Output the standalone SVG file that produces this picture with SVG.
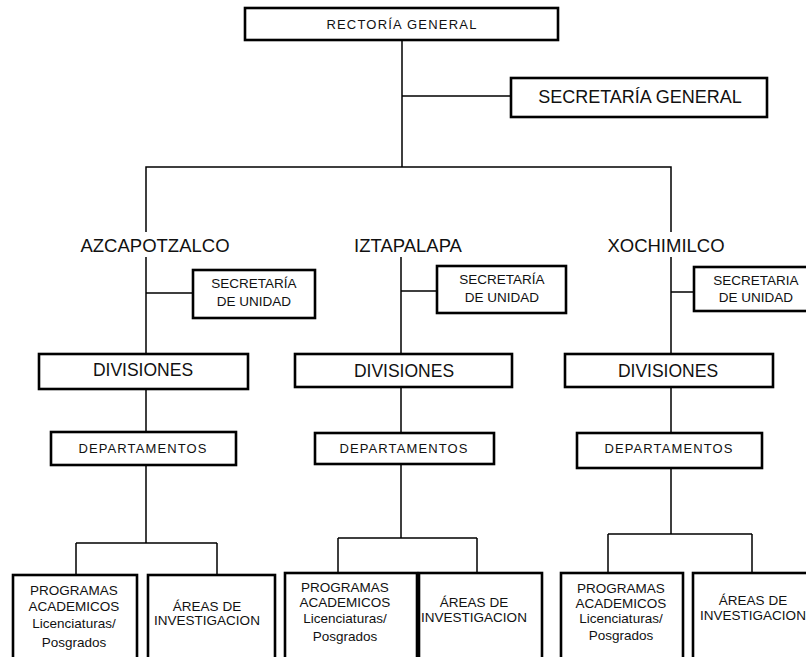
<svg xmlns="http://www.w3.org/2000/svg" width="806" height="657" viewBox="0 0 806 657">
<style>
.box{fill:#fff;stroke:#000;stroke-width:2.6}
.ln{fill:none;stroke:#000;stroke-width:1.5}
text{font-family:"Liberation Sans",Arial,sans-serif;fill:#111;text-anchor:middle}
.t13{font-size:13px;letter-spacing:1.2px}
.big{font-size:18px}
.div{font-size:17.5px}
.sec{font-size:13.5px}
.dep{font-size:13px;letter-spacing:1.1px}
.sm{font-size:13.5px}
</style>
<rect width="806" height="657" fill="#fff"/>
<g id="connectors">
<path class="ln" d="M402 40V167M402 96H511M146 232V167H671V232"/>
<path class="ln" d="M146 257V354M146 293H193M146 389V432M146 465V543M76 543H217M76 543V575M217 543V575"/>
<path class="ln" d="M401 257V354M401 291H437M401 387V433M401 464V538M338 538H477M338 538V573M477 538V573"/>
<path class="ln" d="M671 257V354M671 292H694M671 387V433M671 468V534M608 534H752M608 534V573M752 534V573"/>
</g>
<g id="rectoria"><rect class="box" x="245" y="8" width="313" height="32"/><text class="t13" x="402" y="29">RECTORÍA GENERAL</text></g>
<g id="secgeneral"><rect class="box" x="511" y="78" width="256" height="39"/><text class="big" x="640" y="103">SECRETARÍA GENERAL</text></g>
<g id="azcapotzalco"><text class="big" x="155" y="252" style="font-size:18.5px">AZCAPOTZALCO</text></g>
<g id="iztapalapa"><text class="big" x="408" y="252" style="font-size:18.5px">IZTAPALAPA</text></g>
<g id="xochimilco"><text class="big" x="666" y="252" style="font-size:18.5px">XOCHIMILCO</text></g>
<g id="sec-azc"><rect class="box" x="193" y="270" width="122" height="48"/><text class="sec" x="254" y="288">SECRETARÍA</text><text class="sec" x="254" y="306">DE UNIDAD</text></g>
<g id="sec-izt"><rect class="box" x="437" y="266" width="129" height="47"/><text class="sec" x="502" y="284">SECRETARÍA</text><text class="sec" x="502" y="302">DE UNIDAD</text></g>
<g id="sec-xoc"><rect class="box" x="694" y="267" width="115" height="44"/><text class="sec" x="756" y="285">SECRETARIA</text><text class="sec" x="756" y="302">DE UNIDAD</text></g>
<g id="div-azc"><rect class="box" x="39" y="354" width="209" height="35"/><text class="div" x="143" y="376">DIVISIONES</text></g>
<g id="div-izt"><rect class="box" x="295" y="354" width="217" height="33"/><text class="div" x="404" y="377">DIVISIONES</text></g>
<g id="div-xoc"><rect class="box" x="565" y="354" width="208" height="33"/><text class="div" x="668" y="377">DIVISIONES</text></g>
<g id="dep-azc"><rect class="box" x="51" y="432" width="185" height="33"/><text class="dep" x="143" y="453">DEPARTAMENTOS</text></g>
<g id="dep-izt"><rect class="box" x="315" y="433" width="179" height="31"/><text class="dep" x="404" y="453">DEPARTAMENTOS</text></g>
<g id="dep-xoc"><rect class="box" x="577" y="433" width="185" height="35"/><text class="dep" x="669" y="453">DEPARTAMENTOS</text></g>
<g id="prog-azc"><rect class="box" x="13" y="575" width="124" height="90"/><text class="sm" x="74" y="595">PROGRAMAS</text><text class="sm" x="74" y="611">ACADEMICOS</text><text class="sm" x="74" y="628">Licenciaturas/</text><text class="sm" x="74" y="647">Posgrados</text></g>
<g id="areas-azc"><rect class="box" x="148" y="575" width="127" height="90"/><text class="sm" x="207" y="611">ÁREAS DE</text><text class="sm" x="207" y="625">INVESTIGACION</text></g>
<g id="prog-izt"><rect class="box" x="285" y="573" width="132" height="92"/><text class="sm" x="345" y="592">PROGRAMAS</text><text class="sm" x="345" y="607">ACADEMICOS</text><text class="sm" x="345" y="623">Licenciaturas/</text><text class="sm" x="345" y="641">Posgrados</text></g>
<g id="areas-izt"><rect class="box" x="419" y="573" width="123" height="92"/><text class="sm" x="474" y="607">ÁREAS DE</text><text class="sm" x="474" y="622">INVESTIGACION</text></g>
<g id="prog-xoc"><rect class="box" x="561" y="573" width="122" height="92"/><text class="sm" x="621" y="593">PROGRAMAS</text><text class="sm" x="621" y="608">ACADEMICOS</text><text class="sm" x="621" y="623">Licenciaturas/</text><text class="sm" x="621" y="640">Posgrados</text></g>
<g id="areas-xoc"><rect class="box" x="693" y="573" width="120" height="92"/><text class="sm" x="753" y="605">ÁREAS DE</text><text class="sm" x="753" y="620">INVESTIGACION</text></g>
</svg>
